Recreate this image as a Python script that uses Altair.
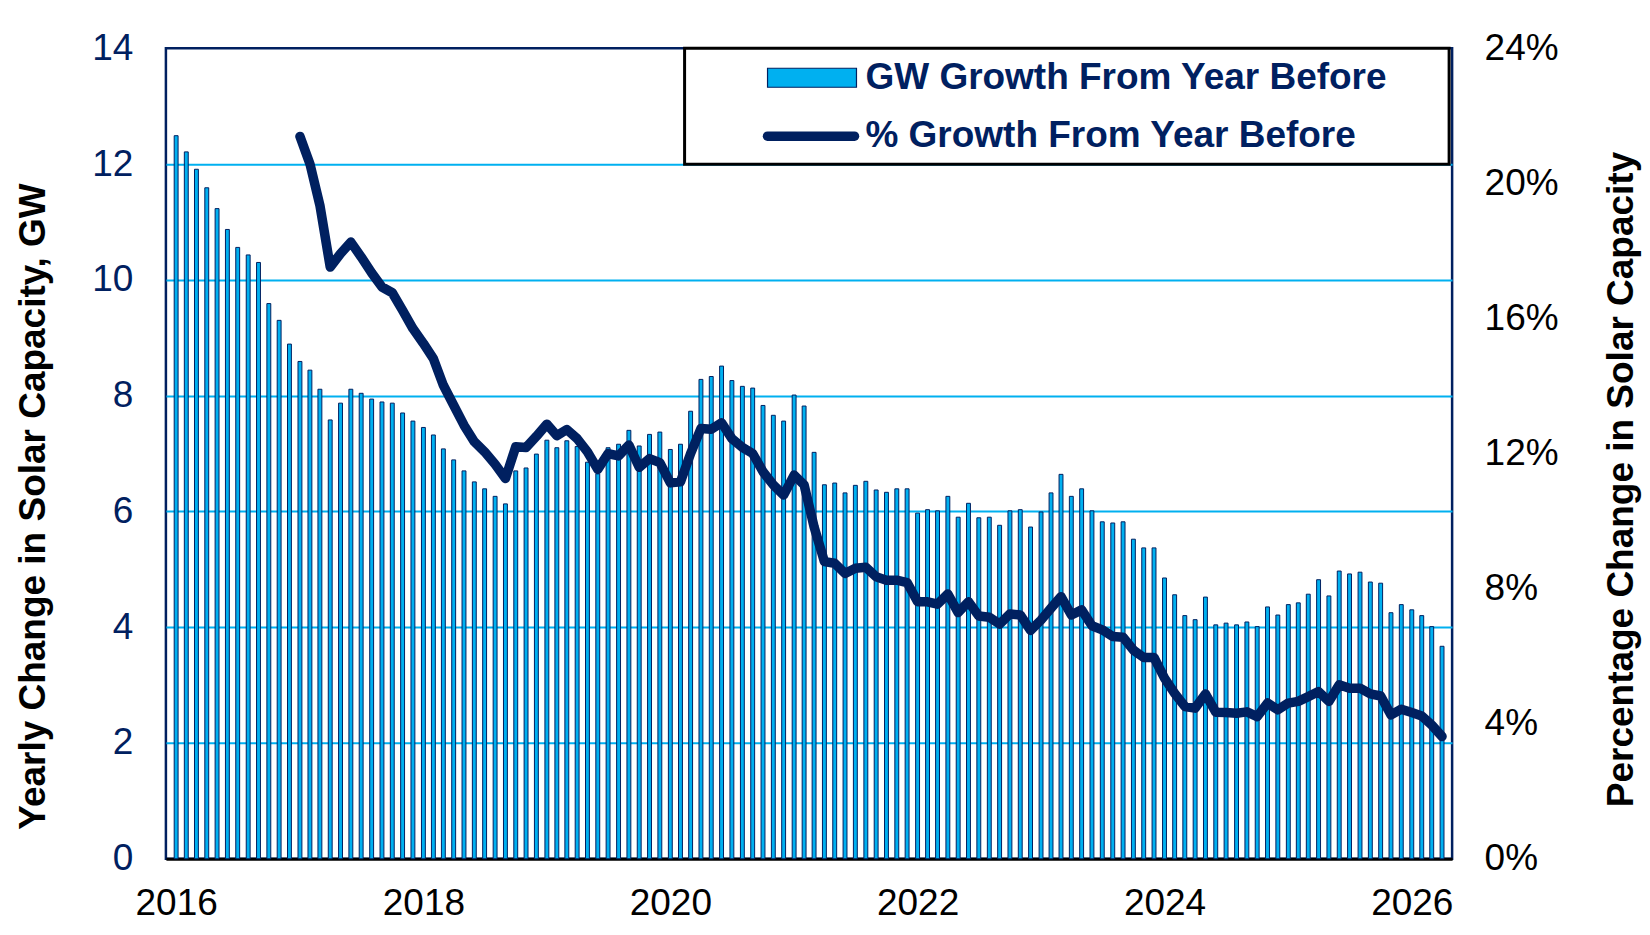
import altair as alt
import pandas as pd

# ---- data ----
START = "2016-01-01"
N_MONTHS = 124  # Jan 2016 .. Apr 2026

gw_growth = [
    12.49, 12.21, 11.91, 11.59, 11.23, 10.87, 10.56, 10.43, 10.30, 9.59, 9.30, 8.89,
    8.59, 8.44, 8.11, 7.58, 7.87, 8.11, 8.04, 7.94, 7.89, 7.87, 7.70, 7.56,
    7.45, 7.32, 7.08, 6.89, 6.70, 6.51, 6.39, 6.26, 6.13, 6.70, 6.75, 6.99,
    7.23, 7.10, 7.22, 7.12, 6.85, 6.65, 7.10, 7.16, 7.40, 7.13, 7.33, 7.37,
    7.07, 7.16, 7.73, 8.28, 8.33, 8.51, 8.26, 8.16, 8.13, 7.83, 7.66, 7.56,
    8.01, 7.82, 7.02, 6.46, 6.49, 6.32, 6.45, 6.52, 6.37, 6.33, 6.39, 6.39,
    5.97, 6.03, 6.01, 6.26, 5.90, 6.14, 5.89, 5.90, 5.76, 6.01, 6.03, 5.73,
    5.99, 6.32, 6.64, 6.26, 6.39, 6.01, 5.82, 5.80, 5.82, 5.52, 5.37, 5.37,
    4.85, 4.56, 4.20, 4.13, 4.52, 4.04, 4.07, 4.04, 4.09, 4.01, 4.35, 4.21,
    4.39, 4.42, 4.57, 4.82, 4.54, 4.97, 4.92, 4.95, 4.78, 4.76, 4.25, 4.39,
    4.30, 4.20, 4.01, 3.67,
]

# % growth from year before, starts Jan 2017 (month index 12)
pct_start_index = 12
pct_growth = [
    21.39, 20.58, 19.35, 17.52, 17.92, 18.26, 17.82, 17.35, 16.93, 16.76, 16.24, 15.70,
    15.26, 14.81, 14.02, 13.43, 12.84, 12.35, 12.05, 11.68, 11.26, 12.20, 12.18, 12.51,
    12.87, 12.53, 12.71, 12.44, 12.05, 11.53, 12.00, 11.93, 12.25, 11.59, 11.85, 11.73,
    11.13, 11.16, 12.00, 12.74, 12.72, 12.91, 12.44, 12.18, 12.00, 11.46, 11.07, 10.77,
    11.36, 11.07, 9.83, 8.80, 8.75, 8.45, 8.60, 8.63, 8.35, 8.25, 8.25, 8.18,
    7.61, 7.61, 7.54, 7.84, 7.29, 7.61, 7.19, 7.15, 6.95, 7.25, 7.22, 6.76,
    7.07, 7.42, 7.76, 7.22, 7.37, 6.90, 6.78, 6.58, 6.56, 6.18, 5.96, 5.96,
    5.35, 4.90, 4.51, 4.46, 4.88, 4.34, 4.33, 4.31, 4.35, 4.21, 4.61, 4.41,
    4.61, 4.66, 4.80, 4.95, 4.66, 5.15, 5.05, 5.05, 4.88, 4.82, 4.26, 4.43,
    4.33, 4.23, 3.96, 3.62,
]

left_ticks = [0, 2, 4, 6, 8, 10, 12, 14]
right_ticks = [0, 4, 8, 12, 16, 20, 24]
year_labels = [2016, 2018, 2020, 2022, 2024, 2026]

legend_bar_label = "GW Growth From Year Before"
legend_line_label = "% Growth From Year Before"
left_title = "Yearly Change in Solar Capacity, GW"
right_title = "Percentage Change in Solar Capacity"

# ---- build tables ----
starts = pd.date_range(START, periods=N_MONTHS + 1, freq="MS")
mids = [starts[i] + (starts[i + 1] - starts[i]) / 2 for i in range(N_MONTHS)]
dates = [m.strftime("%Y-%m-%dT%H:%M:%SZ") for m in mids]

bars_df = pd.DataFrame({"date": dates, "gw": gw_growth})
line_df = pd.DataFrame({"date": dates[pct_start_index:], "pct": pct_growth})

CYAN = "#00B0F0"
NAVY = "#002060"
FONT = "Liberation Sans"
FS = 37

x_scale = alt.Scale(
    type="utc",
    domain=[alt.DateTime(year=2016, month=1, date=1, utc=True),
            alt.DateTime(year=2026, month=5, date=1, utc=True)],
)
x_axis = alt.Axis(
    values=[alt.DateTime(year=y, month=1, date=16, hours=12, utc=True) for y in year_labels],
    format="%Y",
    labelFont=FONT, labelFontSize=FS, labelColor="black", labelPadding=27,
    labelFlush=False, ticks=False, tickSize=0,
    domainColor="black", domainWidth=3, grid=False,
)

bars = alt.Chart(bars_df).mark_bar(
    size=3.9, fill=CYAN, stroke=NAVY, strokeWidth=1
).encode(
    x=alt.X("date:T", scale=x_scale, axis=x_axis, title=None),
    y=alt.Y(
        "gw:Q",
        scale=alt.Scale(domain=[0, 14], nice=False),
        axis=alt.Axis(
            values=left_ticks, orient="left",
            labelFont=FONT, labelFontSize=FS, labelColor=NAVY, labelPadding=33,
            ticks=False, tickSize=0, domain=False,
            grid=True, gridColor=CYAN, gridWidth=2,
            gridOpacity={"condition": {"test": "datum.value == 0 || datum.value == 14", "value": 0}, "value": 1},
            title=left_title, titleFont=FONT, titleFontSize=FS, titleFontWeight="bold",
            titleColor="black", titleAngle=270, titleX=-121, titleY=458,
            titleBaseline="alphabetic", titleAlign="center",
        ),
    ),
)

line = alt.Chart(line_df).mark_line(
    stroke=NAVY, strokeWidth=9.5, strokeJoin="round", strokeCap="round"
).encode(
    x=alt.X("date:T", scale=x_scale),
    y=alt.Y(
        "pct:Q",
        scale=alt.Scale(domain=[0, 24], nice=False),
        axis=alt.Axis(
            values=right_ticks, orient="right", labelExpr="datum.value + '%'",
            labelFont=FONT, labelFontSize=FS, labelColor="black", labelPadding=32,
            ticks=False, tickSize=0, domain=False, grid=False,
            title=right_title, titleFont=FONT, titleFontSize=FS, titleFontWeight="bold",
            titleColor="black", titleAngle=270, titleX=180, titleY=431,
            titleBaseline="alphabetic", titleAlign="center",
        ),
    ),
)

one = pd.DataFrame({"k": [0]})
legend_box = alt.Chart(one).mark_rect(fill="white", stroke="black", strokeWidth=3).encode(
    x=alt.value(519), x2=alt.value(1284), y=alt.value(0), y2=alt.value(116)
)
legend_swatch = alt.Chart(one).mark_rect(fill=CYAN, stroke=NAVY, strokeWidth=1.2).encode(
    x=alt.value(602), x2=alt.value(691), y=alt.value(20), y2=alt.value(39)
)
legend_rule = alt.Chart(one).mark_rule(stroke=NAVY, strokeWidth=9.5, strokeCap="round").encode(
    x=alt.value(602), x2=alt.value(689), y=alt.value(88)
)
legend_text1 = alt.Chart(one).mark_text(
    align="left", baseline="alphabetic", font=FONT, fontSize=37, fontWeight="bold", color=NAVY
).encode(x=alt.value(700), y=alt.value(41), text=alt.value(legend_bar_label))
legend_text2 = alt.Chart(one).mark_text(
    align="left", baseline="alphabetic", font=FONT, fontSize=37, fontWeight="bold", color=NAVY
).encode(x=alt.value(700), y=alt.value(98.5), text=alt.value(legend_line_label))

chart = alt.layer(
    bars, line, legend_box, legend_swatch, legend_rule, legend_text1, legend_text2
).resolve_scale(y="independent").properties(
    width=1287, height=811,
    autosize=alt.AutoSizeParams(type="none"),
    padding={"left": 158, "top": 40, "right": 190, "bottom": 70},
).configure_view(stroke=NAVY, strokeWidth=2.5)

chart.save("out.html", embed_options={"renderer": "svg", "actions": False})
